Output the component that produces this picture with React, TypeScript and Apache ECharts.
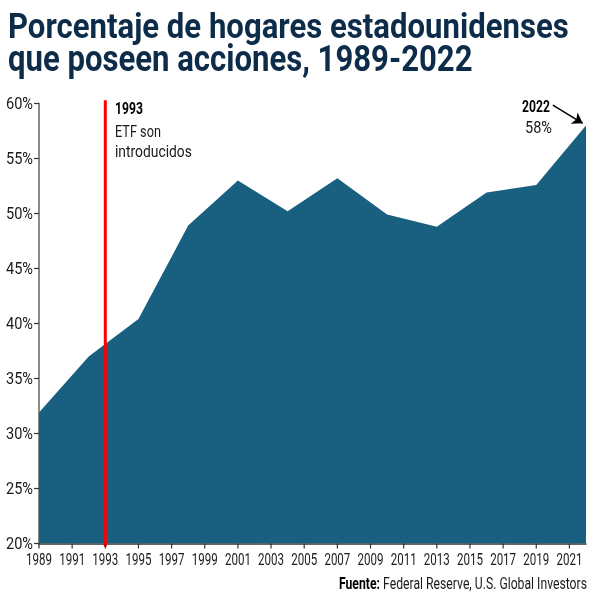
import React, { useEffect, useRef } from "react";
import * as echarts from "echarts";

// ---- data ----
const surveyYears = [1989, 1992, 1995, 1998, 2001, 2004, 2007, 2010, 2013, 2016, 2019, 2022];
const sharePct = [31.9, 37.0, 40.4, 48.9, 53.0, 50.2, 53.2, 49.9, 48.8, 51.9, 52.6, 58.0];
const xTickYears = [1989, 1991, 1993, 1995, 1997, 1999, 2001, 2003, 2005, 2007, 2009, 2011, 2013, 2015, 2017, 2019, 2021];
const yTickValues = [20, 25, 30, 35, 40, 45, 50, 55, 60];
const etfYear = 1993;
const titleLines = ["Porcentaje de hogares estadounidenses", "que poseen acciones, 1989-2022"];
const etfNote = ["1993", "ETF son", "introducidos"];
const lastNote = ["2022", "58%"];
const sourceParts = ["Fuente:", " Federal Reserve, U.S. Global Investors"];

const FONT = "Roboto, 'Liberation Sans', sans-serif";

function measure(text: string, weight: string, size: number, family: string) {
  const ctx = document.createElement("canvas").getContext("2d");
  if (!ctx) return text.length * size * 0.5;
  ctx.font = `${weight} ${size}px ${family}`;
  return ctx.measureText(text).width;
}
function fit(text: string, weight: string, size: number, family: string, target: number) {
  const w = measure(text, weight, size, family);
  return w > 0 ? target / w : 1;
}

export default function App() {
  const ref = useRef<HTMLDivElement>(null);
  useEffect(() => {
    if (!ref.current) return;
    const chart = echarts.init(ref.current, undefined, { renderer: "svg" });
    const navy = "#0c2c49";
    const area = "#185f80";
    const ink = "#1a1a1a";

    const txt = (
      text: string, x: number, y: number, size: number, weight: string,
      target: number, align: string, fill: string
    ) => ({
      type: "text",
      x, y,
      scaleX: fit(text, weight, size, FONT, target),
      style: { text, fontSize: size, fontWeight: weight, fontFamily: FONT, fill, align, verticalAlign: "middle" },
      silent: true,
    });

    const srcW = measure(sourceParts[0], "bold", 16, FONT) + measure(sourceParts[1], "normal", 16, FONT);

    const xMin = surveyYears[0];
    const xMax = surveyYears[surveyYears.length - 1];
    const yMin = yTickValues[0];
    const yMax = yTickValues[yTickValues.length - 1];

    const xLabelScale = fit("1989", "normal", 17, FONT, 26);
    const yLabelScale = fit("60%", "normal", 17, FONT, 27);

    chart.setOption({
      animation: false,
      grid: { left: 39, right: 14, top: 103.5, bottom: 56.5, containLabel: false, outerBoundsMode: "none" },
      xAxis: {
        type: "value",
        min: xMin,
        max: xMax,
        splitLine: { show: false },
        axisLine: { show: true, lineStyle: { color: "#333", width: 1.5 } },
        axisTick: { show: false },
        axisLabel: { show: false },
      },
      yAxis: {
        type: "value",
        min: yMin, max: yMax, interval: 5,
        splitLine: { show: false },
        axisLine: { show: true, lineStyle: { color: "#8a8a8a", width: 2 } },
        axisTick: { show: true, length: 5, lineStyle: { color: "#333", width: 1.2 } },
        axisLabel: { show: false },
      },
      series: [
        {
          type: "line",
          data: surveyYears.map((y, i) => [y, sharePct[i]]),
          symbol: "none",
          lineStyle: { width: 0 },
          areaStyle: { color: area, opacity: 1, origin: "start" },
          z: 2,
          markLine: {
            silent: true,
            symbol: ["none", "arrow"],
            symbolSize: 10,
            label: { show: false },
            lineStyle: { color: "#000", width: 1.5, type: "solid" },
            data: [[{ coord: [2020.0, 59.85] }, { coord: [2021.8, 58.2] }]],
          },
        },
        {
          type: "line",
          data: [[etfYear, yMin - 0.3], [etfYear, yMax + 0.3]],
          symbol: "none",
          clip: false,
          silent: true,
          lineStyle: { color: "#ff0000", width: 3 },
          z: 5,
        },
        {
          // x-axis ticks and labels
          type: "custom",
          coordinateSystem: "cartesian2d",
          clip: false,
          silent: true,
          z: 6,
          data: xTickYears.map((v) => [v, yMin]),
          encode: { x: 0, y: 1 },
          renderItem: (_p: any, api: any) => {
            const pt = api.coord([api.value(0), api.value(1)]);
            return {
              type: "group",
              children: [
                {
                  type: "line",
                  shape: { x1: pt[0], y1: pt[1], x2: pt[0], y2: pt[1] + 5 },
                  style: { stroke: "#333", lineWidth: 1.2 },
                },
                {
                  type: "text",
                  x: pt[0],
                  y: pt[1] + 16.5,
                  scaleX: xLabelScale,
                  style: {
                    text: String(api.value(0)),
                    fontSize: 17, fontFamily: FONT, fill: ink,
                    align: "center", verticalAlign: "middle",
                  },
                },
              ],
            };
          },
        },
        {
          // y-axis labels
          type: "custom",
          coordinateSystem: "cartesian2d",
          clip: false,
          silent: true,
          z: 6,
          data: yTickValues.map((v) => [xMin, v]),
          encode: { x: 0, y: 1 },
          renderItem: (_p: any, api: any) => {
            const pt = api.coord([api.value(0), api.value(1)]);
            return {
              type: "text",
              x: pt[0] - 6,
              y: pt[1],
              scaleX: yLabelScale,
              style: {
                text: `${api.value(1)}%`,
                fontSize: 17, fontFamily: FONT, fill: ink,
                align: "right", verticalAlign: "middle",
              },
            };
          },
        },
      ],
      graphic: [
        txt(titleLines[0], 8, 26, 36, "bold", 561, "left", navy),
        txt(titleLines[1], 8, 59, 36, "bold", 465, "left", navy),
        txt(etfNote[0], 115, 108.5, 16.5, "bold", 28, "left", "#000"),
        txt(etfNote[1], 115, 131, 16.5, "normal", 46, "left", ink),
        txt(etfNote[2], 115, 151.5, 16.5, "normal", 77, "left", ink),
        txt(lastNote[0], 536, 106.5, 16.5, "bold", 28, "center", "#000"),
        txt(lastNote[1], 538.5, 127.5, 16.5, "normal", 27, "center", ink),
        {
          type: "text",
          x: 587, y: 583,
          scaleX: srcW > 0 ? 248 / srcW : 1,
          silent: true,
          style: {
            text: `{b|${sourceParts[0]}}{n|${sourceParts[1]}}`,
            align: "right",
            verticalAlign: "middle",
            fontSize: 16,
            fontFamily: FONT,
            rich: {
              b: { fontSize: 16, fontFamily: FONT, fontWeight: "bold", fill: "#000" },
              n: { fontSize: 16, fontFamily: FONT, fontWeight: "normal", fill: ink },
            },
          },
        },
      ],
    });
    return () => chart.dispose();
  }, []);
  return <div ref={ref} style={{ position: "fixed", left: 0, top: 0, width: 600, height: 600 }} />;
}
